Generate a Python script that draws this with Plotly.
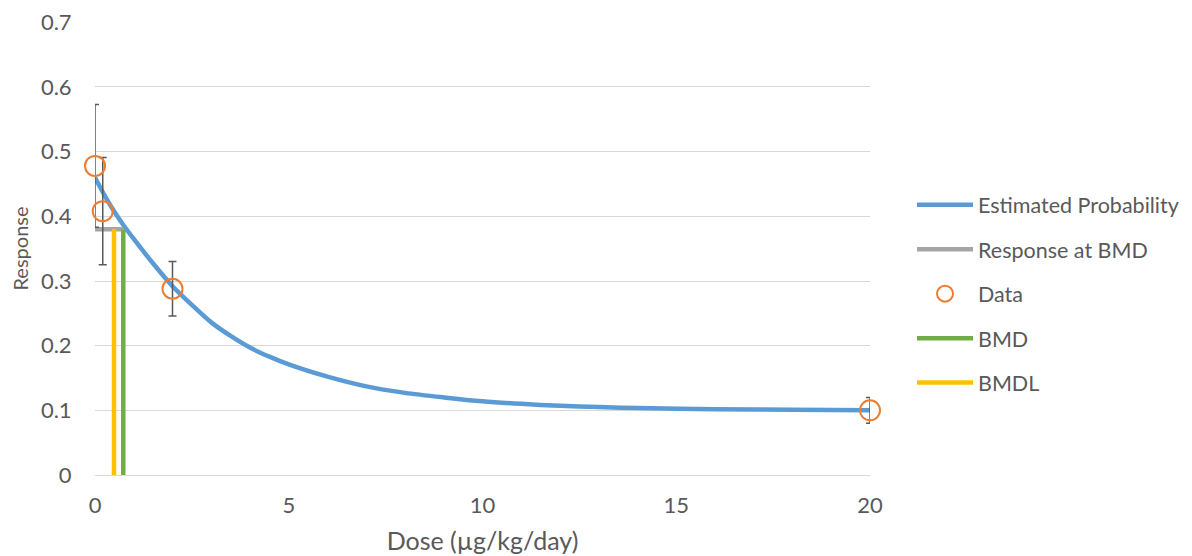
import plotly.graph_objects as go

# Model curve
curve_dose = [0, 0.25, 0.5, 0.75, 1, 1.5, 2, 2.5, 3, 3.5, 4, 4.5, 5, 6, 7, 8, 9, 10,
              11, 12, 13, 14, 16, 18, 20]
curve_resp = [0.460, 0.432, 0.407, 0.385, 0.365, 0.327, 0.292, 0.263, 0.236, 0.215,
              0.197, 0.183, 0.171, 0.152, 0.137, 0.127, 0.120, 0.114,
              0.110, 0.107, 0.105, 0.1035, 0.1018, 0.1008, 0.1003]

# Observed data
data_dose = [0, 0.2, 2, 20]
data_resp = [0.478, 0.408, 0.288, 0.100]
data_err = [0.095, 0.083, 0.042, 0.020]

# Benchmark values
bmd = 0.73
bmdl = 0.49
bmr_resp = 0.38

# Axis ticks
x_ticks = [0, 5, 10, 15, 20]
y_ticks = [0, 0.1, 0.2, 0.3, 0.4, 0.5, 0.6, 0.7]
y_ticklabels = ["0", "0.1", "0.2", "0.3", "0.4", "0.5", "0.6", "0.7"]

font_family = "Lato, 'Open Sans', sans-serif"
text_color = "#595959"

fig = go.Figure()

fig.add_trace(go.Scatter(
    x=curve_dose, y=curve_resp, mode="lines", name="Estimated Probability",
    line=dict(color="#5B9BD5", width=4.5, shape="spline", smoothing=0.8), legendgroup="a"))

fig.add_trace(go.Scatter(
    x=[0, bmd], y=[bmr_resp, bmr_resp], mode="lines", name="Response at BMD",
    line=dict(color="#A5A5A5", width=4.5), legendgroup="b"))

fig.add_trace(go.Scatter(
    x=data_dose, y=data_resp, mode="markers", name="Data",
    marker=dict(symbol="circle-open", size=20, color="#ED7D31", line=dict(width=2, color="#ED7D31")),
    error_y=dict(type="data", array=data_err, visible=True, color="#595959", thickness=1.5, width=4),
    cliponaxis=False, legendgroup="c"))

fig.add_trace(go.Scatter(
    x=[bmd, bmd], y=[0, bmr_resp], mode="lines", name="BMD",
    line=dict(color="#70AD47", width=4.5), legendgroup="d"))

fig.add_trace(go.Scatter(
    x=[bmdl, bmdl], y=[0, bmr_resp], mode="lines", name="BMDL",
    line=dict(color="#FFC000", width=4.5), legendgroup="e"))

fig.update_layout(
    width=1192, height=556,
    margin=dict(l=87, r=330, t=14, b=89, autoexpand=False),
    paper_bgcolor="white", plot_bgcolor="white",
    font=dict(family=font_family, color=text_color, size=22),
    legend=dict(x=1.0542, xanchor="left", y=0.40, yanchor="middle",
                font=dict(size=21.5, color=text_color),
                traceorder="grouped", tracegroupgap=13.5, itemwidth=56,
                bgcolor="rgba(0,0,0,0)"),
    showlegend=True,
)

fig.update_xaxes(
    range=[0, 20], tickvals=x_ticks, automargin=False,
    showgrid=False, zeroline=False, showline=False,
    ticks="outside", ticklen=11, tickcolor="rgba(0,0,0,0)",
    tickfont=dict(size=22, color=text_color),
    title=dict(text="Dose (µg/kg/day)", font=dict(size=25, color=text_color), standoff=15),
)

fig.update_yaxes(
    range=[0, 0.7005], tickvals=y_ticks, ticktext=y_ticklabels, automargin=False,
    showgrid=True, gridcolor="#D9D9D9", gridwidth=1,
    zeroline=True, zerolinecolor="#D9D9D9", zerolinewidth=1, showline=False,
    ticks="outside", ticklen=18, tickcolor="rgba(0,0,0,0)",
    tickfont=dict(size=22, color=text_color),
    title=dict(text="Response", font=dict(size=20, color=text_color), standoff=8),
)

fig.write_html("out.html")
